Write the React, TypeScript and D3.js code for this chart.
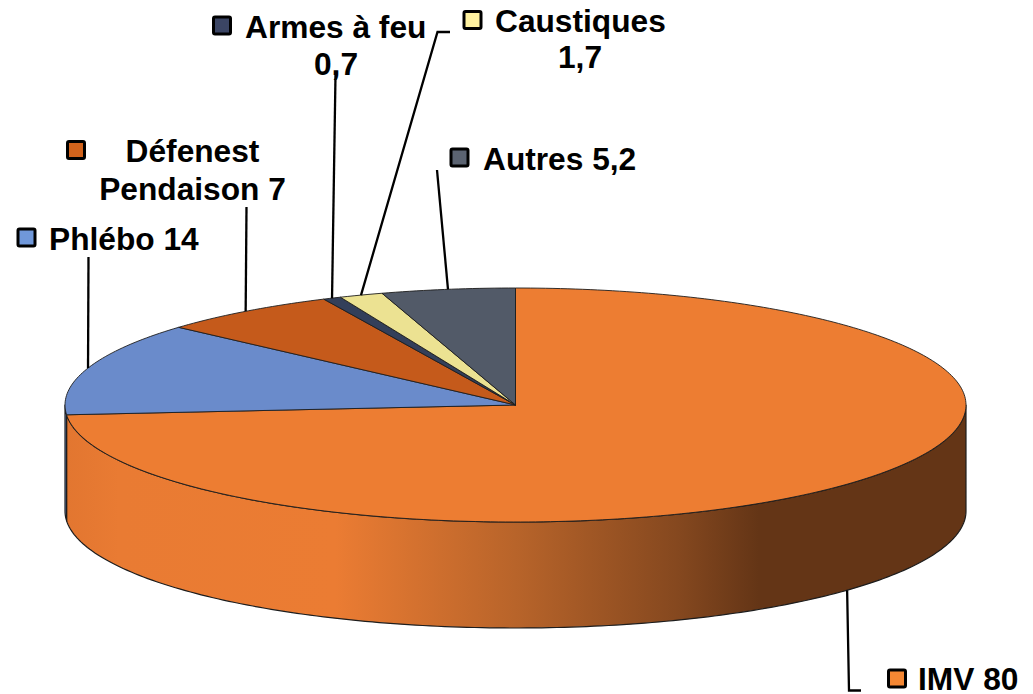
import React from "react";
import * as d3 from "d3";

const categories = ["IMV", "Phlébo", "Défenest Pendaison", "Armes à feu", "Caustiques", "Autres"];
const values = [80, 14, 7, 0.7, 1.7, 5.2];
const sliceColors = ["#ED7D32", "#6A8BCB", "#C55A1B", "#333F5A", "#ECE292", "#525A68"];
const markerColors = ["#F58733", "#7098DA", "#D2631C", "#3B4564", "#FFF2A0", "#5B6371"];

const width = 1033;
const height = 694;
const cx = 515.5;
const cy = 405;
const rx = 450.5;
const ry = 117;
const depth = 106;
const FONT = "'Liberation Sans', Arial, sans-serif";
const FONT_SIZE = 31.7;

// layout of the callouts, same order as categories
const labels = [
  { marker: [897, 678.5], leaderEnd: [[849, 690.5], [861, 690.5]], lines: [{ t: "IMV 80", x: 918, y: 690, a: "start" }] },
  { marker: [26.5, 237.5], leaderEnd: [[88.5, 257]], lines: [{ t: "Phlébo 14", x: 49, y: 250, a: "start" }] },
  {
    marker: [76, 150],
    leaderEnd: [[246.5, 207]],
    lines: [
      { t: "Défenest", x: 192.5, y: 162, a: "middle" },
      { t: "Pendaison 7", x: 192.5, y: 200, a: "middle" },
    ],
  },
  {
    marker: [222, 25.5],
    leaderEnd: [[335.5, 75]],
    lines: [
      { t: "Armes à feu", x: 245, y: 38, a: "start" },
      { t: "0,7", x: 336, y: 75, a: "middle" },
    ],
  },
  {
    marker: [472.5, 20],
    leaderEnd: [[437.5, 32], [450, 32]],
    lines: [
      { t: "Caustiques", x: 495, y: 32, a: "start" },
      { t: "1,7", x: 580, y: 68, a: "middle" },
    ],
  },
  { marker: [459.5, 157.5], leaderEnd: [[437, 170]], lines: [{ t: "Autres 5,2", x: 483, y: 170, a: "start" }] },
];

const pie = d3.pie<number>().sort(null).value((d) => d);
const slices = pie(values);

// angle 0 is 12 o'clock, clockwise, flattened into an ellipse
const px = d3.scaleLinear().domain([-1, 1]).range([cx - rx, cx + rx]);
const py = d3.scaleLinear().domain([-1, 1]).range([cy - ry, cy + ry]);
const onRim = (a: number, dy = 0): [number, number] => [px(Math.sin(a)), py(-Math.cos(a)) + dy];

const line = d3.line();

function topPath(s: d3.PieArcDatum<number>) {
  const n = Math.max(2, Math.ceil((s.endAngle - s.startAngle) * 60));
  const rim = d3.range(n + 1).map((i) => onRim(s.startAngle + ((s.endAngle - s.startAngle) * i) / n));
  return line([[cx, cy], ...rim]) + "Z";
}

// the wall is only visible on the front half, PI/2 to 3PI/2
function wallPath(s: d3.PieArcDatum<number>) {
  const a0 = Math.max(s.startAngle, Math.PI / 2);
  const a1 = Math.min(s.endAngle, (3 * Math.PI) / 2);
  if (a1 <= a0) return null;
  const n = Math.ceil((a1 - a0) * 60);
  const angles = d3.range(n + 1).map((i) => a0 + ((a1 - a0) * i) / n);
  const upper = angles.map((a) => onRim(a));
  const lower = angles.slice().reverse().map((a) => onRim(a, depth));
  return line([...upper, ...lower]) + "Z";
}

export default function App() {
  return (
    <svg width={width} height={height} style={{ position: "absolute", left: 0, top: 0 }}>
      <defs>
        <linearGradient id="wall" gradientUnits="userSpaceOnUse" x1={cx - rx} x2={cx + rx} y1={0} y2={0}>
          <stop offset="0" stopColor="#E27630" />
          <stop offset="0.06" stopColor="#E97B33" />
          <stop offset="0.3" stopColor="#EB7C33" />
          <stop offset="0.5" stopColor="#B8642A" />
          <stop offset="0.68" stopColor="#85481F" />
          <stop offset="0.77" stopColor="#643516" />
          <stop offset="1" stopColor="#643516" />
        </linearGradient>
      </defs>

      {slices.map((s, i) => {
        const d = wallPath(s);
        return d ? (
          <path key={categories[i]} d={d} fill={i === 0 ? "url(#wall)" : sliceColors[i]} stroke="#1d1d1d" strokeWidth={1.2} strokeLinejoin="round" />
        ) : null;
      })}
      {slices.map((s, i) => (
        <path key={categories[i]} d={topPath(s)} fill={sliceColors[i]} stroke="#1d1d1d" strokeWidth={0.9} strokeLinejoin="round" />
      ))}

      {slices.map((s, i) => {
        const mid = (s.startAngle + s.endAngle) / 2;
        const front = mid > Math.PI / 2 && mid < (3 * Math.PI) / 2;
        const start = onRim(mid, front ? depth : 0);
        return (
          <path
            key={categories[i]}
            d={line([start, ...(labels[i].leaderEnd as [number, number][])]) ?? ""}
            fill="none"
            stroke="#000"
            strokeWidth={2.3}
          />
        );
      })}

      {labels.map((l, i) => (
        <g key={categories[i]}>
          <rect
            x={l.marker[0] - 8.5}
            y={l.marker[1] - 8.5}
            width={17}
            height={17}
            rx={1.5}
            fill={markerColors[i]}
            stroke="#000"
            strokeWidth={3}
          />
          {l.lines.map((t) => (
            <text key={t.t} x={t.x} y={t.y} textAnchor={t.a as "start" | "middle"} fontFamily={FONT} fontWeight="bold" fontSize={FONT_SIZE} fill="#000">
              {t.t}
            </text>
          ))}
        </g>
      ))}
    </svg>
  );
}
